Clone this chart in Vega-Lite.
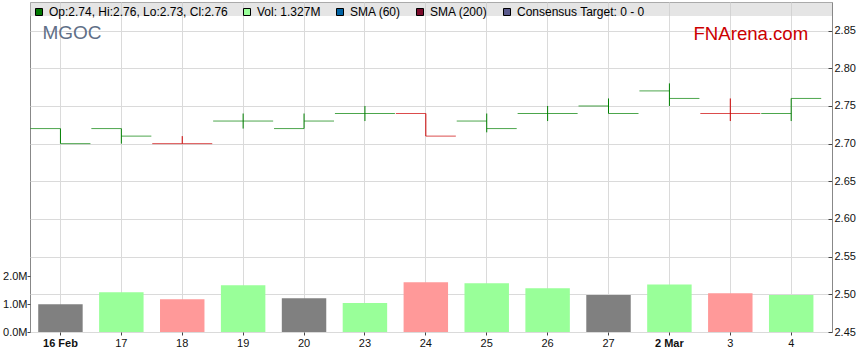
{
  "$schema": "https://vega.github.io/schema/vega-lite/v6.json",
  "width": 802,
  "height": 330,
  "autosize": {"type": "none"},
  "padding": {"left": 30, "top": 2, "right": 27, "bottom": 31},
  "background": "white",
  "data": {
    "values": [
      {"day": "16 Feb", "open": 2.72, "high": 2.72, "low": 2.70, "close": 2.70, "volume": 1000000, "change": 0},
      {"day": "17", "open": 2.72, "high": 2.72, "low": 2.70, "close": 2.71, "volume": 1430000, "change": 0.01},
      {"day": "18", "open": 2.70, "high": 2.71, "low": 2.70, "close": 2.70, "volume": 1180000, "change": -0.01},
      {"day": "19", "open": 2.73, "high": 2.74, "low": 2.72, "close": 2.73, "volume": 1680000, "change": 0.03},
      {"day": "20", "open": 2.72, "high": 2.74, "low": 2.72, "close": 2.73, "volume": 1210000, "change": 0},
      {"day": "23", "open": 2.74, "high": 2.75, "low": 2.73, "close": 2.74, "volume": 1040000, "change": 0.01},
      {"day": "24", "open": 2.74, "high": 2.74, "low": 2.71, "close": 2.71, "volume": 1790000, "change": -0.03},
      {"day": "25", "open": 2.73, "high": 2.74, "low": 2.715, "close": 2.72, "volume": 1750000, "change": 0.01},
      {"day": "26", "open": 2.74, "high": 2.75, "low": 2.73, "close": 2.74, "volume": 1570000, "change": 0.02},
      {"day": "27", "open": 2.75, "high": 2.76, "low": 2.74, "close": 2.74, "volume": 1330000, "change": 0},
      {"day": "2 Mar", "open": 2.77, "high": 2.78, "low": 2.75, "close": 2.76, "volume": 1710000, "change": 0.02},
      {"day": "3", "open": 2.74, "high": 2.76, "low": 2.73, "close": 2.74, "volume": 1390000, "change": -0.02},
      {"day": "4", "open": 2.74, "high": 2.76, "low": 2.73, "close": 2.76, "volume": 1327000, "change": 0.02}
    ]
  },
  "layer": [
    {
      "mark": {"type": "bar", "width": {"band": 0.73}},
      "encoding": {
        "x": {
          "field": "day", "type": "ordinal", "title": null,
          "scale": {
            "domain": ["16 Feb", "17", "18", "19", "20", "23", "24", "25", "26", "27", "2 Mar", "3", "4"],
            "paddingInner": 0, "paddingOuter": 0.085, "align": 0
          },
          "axis": {
            "title": null, "grid": true, "gridColor": "#dadada", "bandPosition": 0.5,
            "tickSize": 3, "labelPadding": 2, "labelAngle": 0, "domain": false,
            "labelFontWeight": {"condition": {"test": "indexof(datum.label, ' ') > 0", "value": "bold"}, "value": "normal"}
          }
        },
        "y": {
          "field": "volume", "type": "quantitative", "title": null,
          "scale": {"domain": [0, 11850000], "nice": false, "zero": true},
          "axis": {
            "orient": "left", "title": null, "values": [0, 1000000, 2000000],
            "labelExpr": "format(datum.value / 1000000, '.1f') + 'M'",
            "grid": false, "tickSize": 3, "labelPadding": 0, "domain": false
          }
        },
        "color": {
          "condition": [
            {"test": "datum.change < 0", "value": "#ff9999"},
            {"test": "datum.change > 0", "value": "#99ff99"}
          ],
          "value": "#808080"
        }
      }
    },
    {
      "layer": [
        {
          "data": {"values": [{"top": 2.888, "bottom": 2.8695}]},
          "mark": {"type": "rect", "color": "#cccccc", "opacity": 0.5},
          "encoding": {
            "y": {"field": "top", "type": "quantitative", "title": null},
            "y2": {"field": "bottom"}
          }
        },
        {
          "mark": {"type": "rule", "strokeWidth": 1},
          "encoding": {
            "x": {"field": "day", "type": "ordinal", "title": null},
            "y": {"field": "low", "type": "quantitative", "title": null},
            "y2": {"field": "high"},
            "color": {"condition": {"test": "datum.change < 0", "value": "#cc0000"}, "value": "#008000"}
          }
        },
        {
          "mark": {"type": "tick", "size": 30, "thickness": 1, "xOffset": -15},
          "encoding": {
            "x": {"field": "day", "type": "ordinal", "title": null},
            "y": {
              "field": "open", "type": "quantitative", "title": null,
              "scale": {"domain": [2.45, 2.888], "nice": false, "zero": false},
              "axis": {
                "orient": "right", "title": null,
                "values": [2.45, 2.5, 2.55, 2.6, 2.65, 2.7, 2.75, 2.8, 2.85],
                "format": ".2f", "grid": true, "gridColor": "#dadada",
                "tickSize": -4, "labelPadding": 6, "domain": false
              }
            },
            "color": {"condition": {"test": "datum.change < 0", "value": "#cc0000"}, "value": "#008000"}
          }
        },
        {
          "mark": {"type": "tick", "size": 30, "thickness": 1, "xOffset": 15},
          "encoding": {
            "x": {"field": "day", "type": "ordinal", "title": null},
            "y": {"field": "close", "type": "quantitative", "title": null},
            "color": {"condition": {"test": "datum.change < 0", "value": "#cc0000"}, "value": "#008000"}
          }
        },
        {
          "data": {"values": [{"label": "MGOC", "day": "16 Feb", "price": 2.839}]},
          "mark": {"type": "text", "align": "left", "baseline": "alphabetic", "dx": -18, "fontSize": 19, "font": "Liberation Sans", "color": "#5f6f87"},
          "encoding": {
            "x": {"field": "day", "type": "ordinal", "title": null},
            "y": {"field": "price", "type": "quantitative", "title": null},
            "text": {"field": "label"}
          }
        },
        {
          "data": {"values": [{"label": "FNArena.com", "day": "4", "price": 2.8377}]},
          "mark": {"type": "text", "align": "right", "baseline": "alphabetic", "dx": 17, "fontSize": 18.6, "font": "Liberation Sans", "color": "#cc0000"},
          "encoding": {
            "x": {"field": "day", "type": "ordinal", "title": null},
            "y": {"field": "price", "type": "quantitative", "title": null},
            "text": {"field": "label"}
          }
        },
        {
          "data": {
            "values": [
              {"series": "Op:2.74, Hi:2.76, Lo:2.73, Cl:2.76"},
              {"series": "Vol: 1.327M"},
              {"series": "SMA (60)"},
              {"series": "SMA (200)"},
              {"series": "Consensus Target: 0 - 0"}
            ]
          },
          "mark": {"type": "square", "opacity": 0, "filled": true},
          "encoding": {
            "color": {
              "field": "series", "type": "nominal",
              "scale": {
                "domain": ["Op:2.74, Hi:2.76, Lo:2.73, Cl:2.76", "Vol: 1.327M", "SMA (60)", "SMA (200)", "Consensus Target: 0 - 0"],
                "range": ["#007700", "#99ff99", "#0062a3", "#7a0a2a", "#5a5a8c"]
              },
              "legend": {
                "title": null, "orient": "none", "legendX": 3, "legendY": 4,
                "direction": "horizontal", "symbolType": "square", "symbolSize": 49,
                "symbolOpacity": 1, "symbolStrokeColor": "#000000", "symbolStrokeWidth": 1,
                "labelFont": "Liberation Sans", "labelFontSize": 12, "labelColor": "#000000",
                "labelOffset": 4, "columnPadding": 13, "padding": 0, "labelLimit": 400,
                "encode": {"symbols": {"update": {"stroke": {"value": "#000000"}, "strokeWidth": {"value": 1}, "opacity": {"value": 1}}}}
              }
            }
          }
        }
      ]
    }
  ],
  "resolve": {"scale": {"y": "independent"}, "axis": {"y": "independent"}},
  "config": {
    "view": {"stroke": "#888888", "strokeWidth": 1},
    "font": "Liberation Sans",
    "axis": {"labelFont": "Liberation Sans", "labelFontSize": 11, "labelColor": "#111111", "tickColor": "#444444"}
  }
}
